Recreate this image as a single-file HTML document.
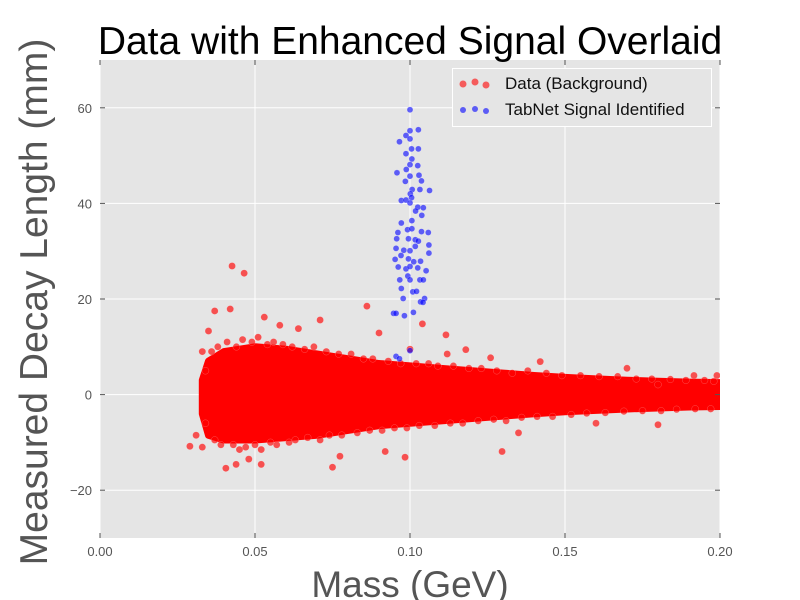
<!DOCTYPE html>
<html><head><meta charset="utf-8"><style>
body{margin:0;background:#fff;}
svg{display:block;font-family:"Liberation Sans","DejaVu Sans",sans-serif;}
</style></head><body>
<svg id="chart" width="800" height="600">
<defs><clipPath id="clip"><rect x="100" y="60" width="620" height="478"/></clipPath></defs>
<rect x="0" y="0" width="800" height="600" fill="#fff"/>
<rect x="100" y="60" width="620" height="478" fill="#e5e5e5"/>
<g id="grid"></g>
<g id="marks" clip-path="url(#clip)"></g>
<g id="axes"></g>
<text x="410" y="54" text-anchor="middle" font-size="39" fill="#000">Data with Enhanced Signal Overlaid</text>
<text x="410" y="597" text-anchor="middle" font-size="37" fill="#555">Mass (GeV)</text>
<text transform="translate(47,302) rotate(-90)" text-anchor="middle" font-size="39" fill="#555">Measured Decay Length (mm)</text>
<g>
<rect x="452.5" y="68.5" width="259" height="58" fill="#e5e5e5" stroke="#fff" stroke-width="1"/>
<g>
<circle cx="463" cy="84" r="3.5" fill="rgba(255,0,0,0.6)"/><circle cx="475" cy="82" r="3.5" fill="rgba(255,0,0,0.6)"/><circle cx="486" cy="85" r="3.5" fill="rgba(255,0,0,0.6)"/>
<text x="505" y="89" font-size="17" fill="#111">Data (Background)</text></g>
<g>
<circle cx="463" cy="110" r="3" fill="rgba(0,0,255,0.6)"/><circle cx="475" cy="109" r="3" fill="rgba(0,0,255,0.6)"/><circle cx="486" cy="111" r="3" fill="rgba(0,0,255,0.6)"/>
<text x="505" y="115" font-size="17" fill="#111">TabNet Signal Identified</text></g>
</g>
</svg>
<script>
const xTicks=[0,0.05,0.1,0.15,0.2];
const xTickLabels=["0.00","0.05","0.10","0.15","0.20"];
const yTicks=[-20,0,20,40,60];
const yTickLabels=["\u221220","0","20","40","60"];
const bgMass=[0.033,0.035,0.040,0.050,0.060,0.070,0.080,0.090,0.100,0.110,0.120,0.130,0.140,0.150,0.160,0.170,0.180,0.190,0.200,0.205];
const bgUpper=[3,7,9,10,9.5,8.5,7.5,6.5,6,5.5,5,4.5,4,3.6,3.3,3,2.8,2.6,2.5,2.5];
const bgLower=[-4,-8.5,-9.5,-9.5,-9,-8.5,-7.5,-6.5,-6,-5.5,-5,-4.5,-4,-3.6,-3.3,-3,-2.8,-2.6,-2.5,-2.5];
const bgOutMass=[0.0426,0.0465,0.037,0.042,0.0861,0.104,0.1116,0.071,0.053,0.09,0.035,0.118,0.126,0.142,0.0439,0.0406,0.052,0.075,0.0984,0.1297,0.092,0.0774,0.029,0.18,0.199,0.1916,0.18,0.058,0.064,0.048,0.033,0.033,0.031,0.1,0.112,0.135,0.16,0.17,
 0.034,0.036,0.038,0.041,0.044,0.046,0.049,0.051,0.054,0.056,0.059,0.062,0.066,0.069,0.073,0.077,0.081,0.085,0.088,0.093,0.097,0.102,0.106,0.109,0.114,0.119,0.123,0.128,0.133,0.138,0.144,0.149,0.155,0.161,0.167,0.173,0.178,0.184,0.189,0.195,0.198,
 0.034,0.037,0.039,0.043,0.045,0.047,0.05,0.052,0.055,0.057,0.061,0.063,0.067,0.071,0.074,0.078,0.083,0.087,0.091,0.095,0.099,0.103,0.108,0.113,0.117,0.122,0.127,0.131,0.136,0.141,0.146,0.152,0.157,0.163,0.169,0.175,0.181,0.186,0.192,0.197];
const bgOutLen=[26.9,25.4,17.5,17.9,18.5,14.8,12.5,15.6,16.2,12.9,13.3,9.4,7.7,6.9,-14.6,-15.4,-14.6,-15.2,-13.1,-11.9,-11.9,-12.9,-10.8,-6.3,4,4,2.1,14.5,13.8,-13.5,-11,9,-8.5,9.5,8.5,-8,-6,5.5,
 5,9,10,11,10,11.5,11,12,10.5,11,10.5,10,9.5,10,9,8.5,8.5,7.5,7.5,7,6.5,6.5,6.5,6,6,5.5,5.5,5,4.5,5,4.5,4,4,3.8,3.8,3.3,3.3,3.2,3,3,2.8,
 -6,-9.5,-10.5,-10.5,-11.5,-11,-10.5,-11.5,-10,-10.5,-10,-9.5,-9,-9.5,-8.5,-8.5,-8,-7.5,-7.5,-7,-7,-6.5,-6.5,-6,-6,-5.5,-5.2,-5.5,-4.8,-4.6,-4.6,-4.2,-3.9,-3.8,-3.5,-3.4,-3.4,-3.1,-3,-3];
const sigMass=[0.1,0.1,0.1027,0.0966,0.0987,0.1,0.1005,0.1027,0.0987,0.1006,0.1,0.1025,0.0958,0.0988,0.1,0.1029,0.0985,0.1037,0.1007,0.1032,0.1063,0.1001,0.0972,0.0987,0.1005,0.1,0.1025,0.1043,0.1018,0.1038,0.0972,0.1006,0.0961,0.0992,0.1006,0.1037,0.1059,0.0957,0.0995,0.1017,0.1027,0.1061,0.0955,0.098,0.1,0.1017,0.1061,0.0971,0.0952,0.0995,0.1012,0.1034,0.0962,0.0987,0.1,0.1025,0.1052,0.0993,0.0967,0.1,0.1032,0.1043,0.0972,0.1009,0.1021,0.0978,0.1034,0.1047,0.1042,0.0947,0.0955,0.0982,0.1011,0.1,0.0955,0.0966];
const sigLen=[59.6,55.2,55.4,52.9,54.2,53.5,51.4,51.4,50.4,49.3,48.1,47.9,46.4,47.1,45.7,45.9,44.6,44.7,42.9,42.9,42.7,42.0,40.6,40.7,41.2,40.1,39.2,39.1,38.4,37.5,35.9,36.4,33.9,34.5,34.7,34.1,33.9,32.6,32.6,32.4,32.1,31.3,30.6,30.2,30.1,31,29.6,29.1,28.3,28.4,27.8,27.9,26.7,26.3,26.8,26.5,25.9,24.8,24,24,24,24,22.2,21.5,21.6,20.1,19.4,20.1,19.3,17,17,16.5,17.2,9.2,8,7.5];

const NS="http://www.w3.org/2000/svg";
const X0=100,X1=720,Y0=538,Y1=60,xmin=0,xmax=0.2,ymin=-30,ymax=70;
function sx(v){return X0+(v-xmin)/(xmax-xmin)*(X1-X0);}
function sy(v){return Y0-(v-ymin)/(ymax-ymin)*(Y0-Y1);}
function mk(tag,attrs,parent){const e=document.createElementNS(NS,tag);for(const k in attrs)e.setAttribute(k,attrs[k]);parent.appendChild(e);return e;}
const grid=document.getElementById('grid'),marks=document.getElementById('marks'),axes=document.getElementById('axes');
xTicks.forEach((t,i)=>{
  const g=mk('line',{x1:sx(t),x2:sx(t),y1:Y1,y2:Y0,stroke:'#fff','stroke-width':1},grid);
  
  
  mk('line',{x1:sx(t),x2:sx(t),y1:Y0,y2:Y0-5,stroke:'#555'},axes);
  mk('line',{x1:sx(t),x2:sx(t),y1:Y1,y2:Y1+5,stroke:'#555'},axes);
  const tx=mk('text',{x:sx(t),y:Y0+18,'text-anchor':'middle','font-size':13,fill:'#555'},axes);
  tx.textContent=xTickLabels[i];
  
  
});
yTicks.forEach((t,i)=>{
  const g=mk('line',{x1:X0,x2:X1,y1:sy(t),y2:sy(t),stroke:'#fff','stroke-width':1},grid);
  
  
  mk('line',{x1:X0,x2:X0+5,y1:sy(t),y2:sy(t),stroke:'#555'},axes);
  mk('line',{x1:X1,x2:X1-5,y1:sy(t),y2:sy(t),stroke:'#555'},axes);
  const tx=mk('text',{x:X0-8,y:sy(t)+5,'text-anchor':'end','font-size':13,fill:'#555'},axes);
  tx.textContent=yTickLabels[i];
  
  
});
let pts=bgMass.map((m,i)=>sx(m)+','+sy(bgUpper[i]));
for(let i=bgMass.length-1;i>=0;i--)pts.push(sx(bgMass[i])+','+sy(bgLower[i]));
const band=mk('polygon',{points:pts.join(' '),fill:'#ff0000',stroke:'#ff0000','stroke-width':7,'stroke-linejoin':'round'},marks);


bgOutMass.forEach((m,i)=>{
  const c=mk('circle',{cx:sx(m),cy:sy(bgOutLen[i]),r:3.5,fill:'rgba(255,0,0,0.65)',stroke:'rgba(255,255,255,0.3)','stroke-width':0.5},marks);
  
  
});
sigMass.forEach((m,i)=>{
  const c=mk('circle',{cx:sx(m),cy:sy(sigLen[i]),r:3,fill:'rgba(0,0,255,0.6)',stroke:'rgba(255,255,255,0.4)','stroke-width':0.5},marks);
  
  
});
</script>
</body></html>
